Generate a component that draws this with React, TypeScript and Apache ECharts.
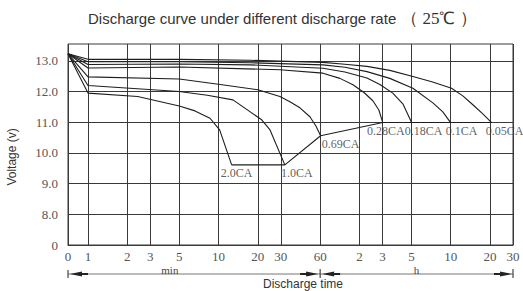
import React, { useEffect, useRef } from 'react';
import * as echarts from 'echarts';

// ---- axis ticks ----
const xTickMinutes = [0, 1, 2, 3, 5, 10, 20, 30, 60, 120, 180, 300, 600, 1200, 1800];
const xTickLabels = ['0', '1', '2', '3', '5', '10', '20', '30', '60', '2', '3', '5', '10', '20', '30'];
const yTickValues = [7, 8, 9, 10, 11, 12, 13];
const yTickLabels = ['0', '8.0', '9.0', '10.0', '11.0', '12.0', '13.0'];

// ---- discharge curves (time in minutes, voltage in V) ----
const rateNames = ['2.0CA', '1.0CA', '0.69CA', '0.28CA', '0.18CA', '0.1CA', '0.05CA'];

const time20 = [0, 1, 2.4, 5, 6.6, 8.6, 10.2, 12.6];
const volt20 = [13.23, 11.95, 11.84, 11.53, 11.37, 11.13, 10.75, 9.61];

const time10 = [0, 1, 5, 8.2, 12.9, 21.4, 24.8, 32.2];
const volt10 = [13.23, 12.2, 12.0, 11.88, 11.73, 11.08, 10.75, 9.61];

const time069 = [0, 1, 5, 10.3, 20, 29.5, 35.2, 42, 50.1, 55.7, 60.5];
const volt069 = [13.23, 12.48, 12.41, 12.23, 12.06, 11.84, 11.67, 11.47, 11.18, 10.88, 10.56];

const time028 = [0, 1, 5, 29.5, 63, 85, 107, 130, 152, 169, 181];
const volt028 = [13.23, 12.77, 12.8, 12.71, 12.6, 12.43, 12.22, 11.97, 11.7, 11.4, 10.99];

const time018 = [0, 1, 5, 17.4, 63, 92.9, 137, 172, 216, 258, 301];
const volt018 = [13.23, 12.88, 12.9, 12.87, 12.76, 12.64, 12.44, 12.23, 11.95, 11.6, 10.99];

const time01 = [0, 1, 5, 17.4, 63, 92.9, 137, 205, 308, 438, 522, 599];
const volt01 = [13.23, 12.97, 12.97, 12.94, 12.87, 12.79, 12.65, 12.43, 12.11, 11.63, 11.34, 10.99];

const time005 = [0, 1, 5, 17.4, 63, 92.9, 137, 205, 308, 430, 609, 743, 887, 1057, 1234];
const volt005 = [13.23, 13.05, 13.05, 13.02, 12.95, 12.89, 12.82, 12.69, 12.49, 12.32, 12.11, 11.86, 11.57, 11.27, 10.99];

const curveTimes = [time20, time10, time069, time028, time018, time01, time005];
const curveVolts = [volt20, volt10, volt069, volt028, volt018, volt01, volt005];

// label horizontal nudge (px) – styling only
const labelDx = [5, 12, 20, 3, 12, 11, 13];

const X_ZERO = -0.153; // axis position used for t = 0 on the log-time scale
const toX = (t: number) => (t === 0 ? X_ZERO : Math.log10(t));
const X_MAX = Math.log10(1800);
const xTickPos = xTickMinutes.map(toX);

const LINE = '#1e1e1e';
const GRID = '#3a3a3a';
const SERIF = 'Liberation Serif';

export default function App() {
  const ref = useRef<HTMLDivElement>(null);

  useEffect(() => {
    if (!ref.current) return;
    const chart = echarts.init(ref.current, null, { renderer: 'svg' });

    const curveSeries = curveTimes.map((ts, i) => ({
      type: 'line',
      name: rateNames[i],
      data: ts.map((t, j) => [toX(t), curveVolts[i][j]]),
      showSymbol: false,
      symbol: 'none',
      lineStyle: { color: LINE, width: 1.1 },
      silent: true,
    }));

    const endPoints = curveTimes
      .map((ts, i) => [toX(ts[ts.length - 1]), curveVolts[i][curveVolts[i].length - 1]])
      .sort((a, b) => a[0] - b[0]);

    const endLine = {
      type: 'line',
      name: 'end',
      data: endPoints,
      showSymbol: false,
      symbol: 'none',
      lineStyle: { color: LINE, width: 1.1 },
      silent: true,
    };

    const labelSeries = {
      type: 'scatter',
      name: 'labels',
      symbolSize: 1,
      itemStyle: { color: 'rgba(0,0,0,0)' },
      silent: true,
      data: curveTimes.map((ts, i) => ({
        value: [toX(ts[ts.length - 1]), curveVolts[i][curveVolts[i].length - 1]],
        label: {
          show: true,
          position: 'bottom',
          distance: 2,
          offset: [labelDx[i], 0],
          formatter: rateNames[i],
          fontFamily: SERIF,
          fontSize: 12,
          color: '#333',
        },
      })),
    };

    const option: any = {
      animation: false,
      backgroundColor: '#fff',
      title: {
        left: 88,
        top: 9,
        padding: 0,
        text: '{a|Discharge curve under different discharge rate} {b|（ 25℃ ）}',
        textStyle: {
          rich: {
            a: { fontFamily: 'Liberation Sans', fontSize: 15, fontWeight: 'normal', color: '#333' },
            b: { fontFamily: SERIF, fontSize: 17, fontWeight: 'normal', color: '#333' },
          },
        },
      },
      grid: {
        left: 68,
        right: 10,
        top: 44,
        bottom: 46,
        show: true,
        borderColor: GRID,
        borderWidth: 1,
        backgroundColor: 'transparent',
      },
      xAxis: {
        type: 'value',
        min: X_ZERO,
        max: X_MAX,
        axisLine: { show: true, lineStyle: { color: GRID, width: 1 } },
        axisTick: { show: false, customValues: xTickPos },
        axisLabel: {
          customValues: xTickPos,
          formatter: (v: number) => {
            const i = xTickPos.findIndex((p) => Math.abs(p - v) < 1e-6);
            return i >= 0 ? xTickLabels[i] : '';
          },
          fontFamily: SERIF,
          fontSize: 13,
          color: '#555',
          margin: 5,
        },
        splitLine: { show: true, lineStyle: { color: GRID, width: 1 } },
      },
      yAxis: {
        type: 'value',
        min: 7,
        max: 13.55,
        axisLine: { show: true, lineStyle: { color: GRID, width: 1 } },
        axisTick: { show: false, customValues: yTickValues },
        axisLabel: {
          customValues: yTickValues,
          formatter: (v: number) => {
            const i = yTickValues.findIndex((p) => Math.abs(p - v) < 1e-6);
            return i >= 0 ? yTickLabels[i] : '';
          },
          fontFamily: SERIF,
          fontSize: 13,
          color: '#555',
          margin: 10,
        },
        splitLine: { show: true, lineStyle: { color: GRID, width: 1 } },
      },
      series: [...curveSeries, endLine, labelSeries],
    };

    chart.setOption(option);

    // decorations placed relative to the axis scale
    const [x0, yb] = chart.convertToPixel({ gridIndex: 0 }, [X_ZERO, 7]) as number[];
    const [x60] = chart.convertToPixel({ gridIndex: 0 }, [Math.log10(60), 7]) as number[];
    const [xEnd] = chart.convertToPixel({ gridIndex: 0 }, [X_MAX, 7]) as number[];
    const [, yMid] = chart.convertToPixel({ gridIndex: 0 }, [X_ZERO, 9.87]) as number[];
    const ya = yb + 29;
    const arrowCol = '#222';
    const lineCol = '#777';

    const arrow = (tipX: number, dir: number) => [
      {
        type: 'polygon',
        shape: { points: [[tipX, ya], [tipX + dir * 12, ya - 2.5], [tipX + dir * 12, ya + 2.5]] },
        style: { fill: arrowCol },
      },
      {
        type: 'rect',
        shape: { x: dir > 0 ? tipX + 10 : tipX - 18, y: ya - 1, width: 8, height: 2 },
        style: { fill: arrowCol },
      },
    ];

    chart.setOption({
      graphic: [
        {
          type: 'text',
          x: 12,
          y: yMid,
          rotation: Math.PI / 2,
          style: {
            text: 'Voltage (v)',
            fontFamily: 'Liberation Sans',
            fontSize: 12,
            fill: '#333',
            align: 'center',
            verticalAlign: 'middle',
          },
        },
        { type: 'line', shape: { x1: x0, y1: ya, x2: x60, y2: ya }, style: { stroke: lineCol, lineWidth: 1 } },
        { type: 'line', shape: { x1: x60, y1: ya, x2: xEnd, y2: ya }, style: { stroke: lineCol, lineWidth: 1 } },
        { type: 'line', shape: { x1: x0, y1: ya - 4, x2: x0, y2: ya + 4 }, style: { stroke: arrowCol, lineWidth: 1 } },
        { type: 'line', shape: { x1: x60, y1: ya - 5, x2: x60, y2: ya + 4 }, style: { stroke: arrowCol, lineWidth: 1 } },
        { type: 'line', shape: { x1: xEnd, y1: ya - 5, x2: xEnd, y2: ya + 4 }, style: { stroke: arrowCol, lineWidth: 1 } },
        ...arrow(x0 + 2, 1),
        ...arrow(x60 - 2, -1),
        ...arrow(x60 + 2, 1),
        ...arrow(xEnd - 1, -1),
        {
          type: 'text',
          x: x0 + 0.404 * (x60 - x0),
          y: ya - 4,
          style: { text: 'min', fontFamily: SERIF, fontSize: 11, fill: '#444', align: 'center', verticalAlign: 'middle' },
        },
        {
          type: 'text',
          x: (x60 + xEnd) / 2,
          y: ya - 4,
          style: { text: 'h', fontFamily: SERIF, fontSize: 11, fill: '#444', align: 'center', verticalAlign: 'middle' },
        },
        {
          type: 'text',
          x: 303,
          y: ya + 10,
          style: { text: 'Discharge time', fontFamily: 'Liberation Sans', fontSize: 12, fill: '#333', align: 'center', verticalAlign: 'middle' },
        },
      ],
    });

    return () => chart.dispose();
  }, []);

  return <div ref={ref} style={{ width: 523, height: 291, position: 'absolute', left: 0, top: 0 }} />;
}
